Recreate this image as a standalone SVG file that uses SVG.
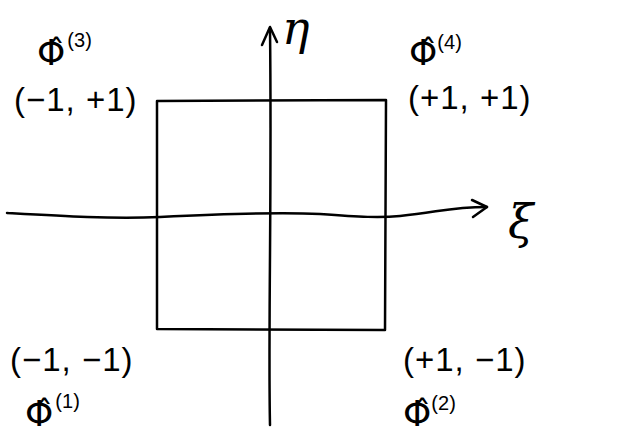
<svg xmlns="http://www.w3.org/2000/svg" width="625" height="436" viewBox="0 0 625 436">
<style>
.ln{fill:none;stroke:#000;stroke-width:2.5;stroke-linecap:round;stroke-linejoin:round}
.t{font-family:"Liberation Sans","DejaVu Sans",sans-serif;fill:#000;font-size:33px;letter-spacing:1px}
.phi{font-family:"DejaVu Sans",sans-serif;fill:#000;font-size:36px}
.sup{font-family:"Liberation Sans",sans-serif;font-size:20px}
.ax{font-family:"DejaVu Serif",serif;font-style:italic;fill:#000;font-size:46px}
</style>
<rect width="625" height="436" fill="#fff"/>
<g id="connectors">
<path class="ln" d="M157,101 L386,100 L385,330 L157,329 Z"/>
<path class="ln" d="M270,425 C268,330 272,200 270,28"/>
<path class="ln" d="M262,45 L270,27 L277,42"/>
<path class="ln" d="M7,213 C60,216 110,219 160,217 C220,214 280,212 320,214 C360,217 380,218 400,216 C440,212 450,207 487,207"/>
<path class="ln" d="M472,200 L487,207 L473,217"/>
</g>
<g id="eta"><text class="ax" x="282" y="44">η</text></g>
<g id="xi"><text class="ax" x="508" y="238">ξ</text></g>
<g id="node3">
<text class="phi" x="37" y="65">Φ̂<tspan class="sup" dx="2" dy="-18">(3)</tspan></text>
<text class="t" x="14" y="111">(−1, +1)</text>
</g>
<g id="node4">
<text class="phi" x="409" y="65">Φ̂<tspan class="sup" dx="0" dy="-16">(4)</tspan></text>
<text class="t" x="408" y="109">(+1, +1)</text>
</g>
<g id="node1">
<text class="t" x="10" y="371">(−1, −1)</text>
<text class="phi" x="25" y="426">Φ̂<tspan class="sup" dx="2" dy="-18">(1)</tspan></text>
</g>
<g id="node2">
<text class="t" x="403" y="371">(+1, −1)</text>
<text class="phi" x="403" y="426">Φ̂<tspan class="sup" dx="0" dy="-16">(2)</tspan></text>
</g>
</svg>
